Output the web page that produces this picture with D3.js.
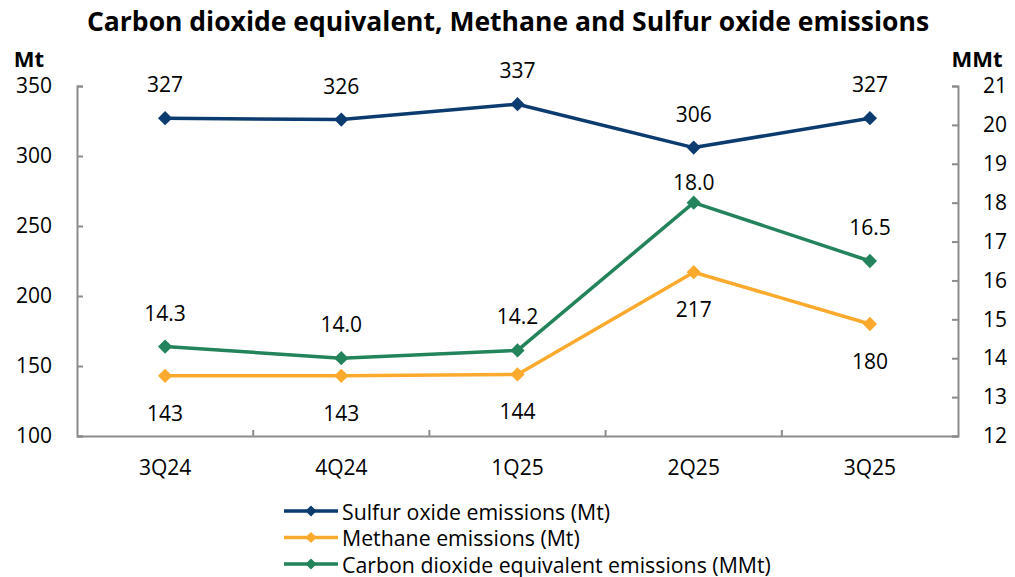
<!DOCTYPE html>
<html>
<head>
<meta charset="utf-8">
<script src="https://cdn.jsdelivr.net/npm/d3@7"></script>
<style>
  html, body { margin: 0; padding: 0; background: #fff; }
  svg { display: block; font-family: "Open Sans", "Noto Sans", sans-serif; }
</style>
</head>
<body>
<svg id="chart" width="1015" height="577"></svg>
<script>
// Quarterly emissions
const quarters = ["3Q24", "4Q24", "1Q25", "2Q25", "3Q25"];
const sulfurOxide = [327, 326, 337, 306, 327];      // Mt, left axis
const methane = [143, 143, 144, 217, 180];          // Mt, left axis
const co2e = [14.3, 14.0, 14.2, 18.0, 16.5];        // MMt, right axis
const leftTicks = [100, 150, 200, 250, 300, 350];
const rightTicks = [12, 13, 14, 15, 16, 17, 18, 19, 20, 21];

const svg = d3.select("#chart");
const plot = { left: 77, right: 958, top: 86, bottom: 436 };

const x = d3.scaleBand().domain(quarters).range([plot.left, plot.right]);
const yL = d3.scaleLinear().domain([100, 350]).range([plot.bottom, plot.top]);
const yR = d3.scaleLinear().domain([12, 21]).range([plot.bottom, plot.top]);

const axisColor = "#8c8c8c";

// Title
svg.append("text")
  .attr("x", 508).attr("y", 31)
  .attr("text-anchor", "middle")
  .attr("font-size", 26.5).attr("font-weight", 700)
  .attr("fill", "#000")
  .text("Carbon dioxide equivalent, Methane and Sulfur oxide emissions");

// Unit captions
svg.append("text").attr("x", 29).attr("y", 67).attr("text-anchor", "middle")
  .attr("font-size", 22).attr("font-weight", 700).text("Mt");
svg.append("text").attr("x", 977).attr("y", 67).attr("text-anchor", "middle")
  .attr("font-size", 22).attr("font-weight", 700).text("MMt");

// Left axis
const gL = svg.append("g").attr("transform", `translate(${plot.left},0)`)
  .call(d3.axisRight(yL).tickValues(leftTicks).tickSize(6).tickFormat(d3.format("d")));
gL.select(".domain").attr("stroke", axisColor).attr("stroke-width", 2);
gL.selectAll(".tick line").attr("stroke", axisColor).attr("stroke-width", 2);
gL.selectAll(".tick text")
  .attr("x", -25).attr("text-anchor", "end")
  .attr("font-size", 21).attr("fill", "#000")
  .attr("font-family", "Open Sans, Noto Sans, sans-serif");

// Right axis
const gR = svg.append("g").attr("transform", `translate(${plot.right},0)`)
  .call(d3.axisLeft(yR).tickValues(rightTicks).tickSize(6).tickFormat(d3.format("d")));
gR.select(".domain").attr("stroke", axisColor).attr("stroke-width", 2);
gR.selectAll(".tick line").attr("stroke", axisColor).attr("stroke-width", 2);
gR.selectAll(".tick text")
  .attr("x", 25).attr("text-anchor", "start")
  .attr("font-size", 21).attr("fill", "#000")
  .attr("font-family", "Open Sans, Noto Sans, sans-serif");

// Bottom axis: ticks at band boundaries, labels at band centres
const gB = svg.append("g").attr("transform", `translate(0,${plot.bottom})`)
  .call(d3.axisBottom(x).tickSize(0).tickPadding(24));
gB.select(".domain").attr("stroke", axisColor).attr("stroke-width", 2);
gB.selectAll(".tick text")
  .attr("font-size", 21).attr("fill", "#000")
  .attr("font-family", "Open Sans, Noto Sans, sans-serif");
gB.selectAll(".boundary")
  .data(quarters.slice(1))
  .join("line")
  .attr("class", "boundary")
  .attr("x1", d => x(d)).attr("x2", d => x(d))
  .attr("y1", 0).attr("y2", -6)
  .attr("stroke", axisColor).attr("stroke-width", 2);

const cx = d => x(d) + x.bandwidth() / 2;
const diamond = d3.symbol().type(d3.symbolDiamond2).size(130);

function drawSeries(values, yScale, color, labelFmt, labelOffset) {
  const pts = quarters.map((q, i) => ({ q, v: values[i], i }));
  const line = d3.line().x(d => cx(d.q)).y(d => yScale(d.v));
  const g = svg.append("g");
  g.append("path").datum(pts)
    .attr("d", line).attr("fill", "none")
    .attr("stroke", color).attr("stroke-width", 3.5)
    .attr("stroke-linejoin", "round");
  g.selectAll("path.marker").data(pts).join("path")
    .attr("class", "marker")
    .attr("d", diamond)
    .attr("transform", d => `translate(${cx(d.q)},${yScale(d.v)})`)
    .attr("fill", color);
  g.selectAll("text").data(pts).join("text")
    .attr("x", d => cx(d.q))
    .attr("y", d => yScale(d.v) + labelOffset(d))
    .attr("text-anchor", "middle")
    .attr("dominant-baseline", "central")
    .attr("font-size", 21).attr("fill", "#000")
    .text(d => labelFmt(d.v));
}

const navy = "#0c3b6f";
const orange = "#fbaa2e";
const green = "#23835b";

drawSeries(methane, yL, orange, d3.format("d"), () => 37);
drawSeries(co2e, yR, green, d3.format(".1f"), d => d.i === 3 ? -21 : -34);
drawSeries(sulfurOxide, yL, navy, d3.format("d"), () => -34);

// Legend
const legendItems = [
  { label: "Sulfur oxide emissions (Mt)", color: navy },
  { label: "Methane emissions (Mt)", color: orange },
  { label: "Carbon dioxide equivalent emissions (MMt)", color: green }
];
const lg = svg.append("g");
legendItems.forEach((d, i) => {
  const yy = 511 + i * 26.5;
  lg.append("line").attr("x1", 284).attr("x2", 338).attr("y1", yy).attr("y2", yy)
    .attr("stroke", d.color).attr("stroke-width", 3.5);
  lg.append("path").attr("d", d3.symbol().type(d3.symbolDiamond2).size(80))
    .attr("transform", `translate(311,${yy})`).attr("fill", d.color);
  lg.append("text").attr("x", 342).attr("y", yy)
    .attr("dominant-baseline", "central")
    .attr("font-size", 21.3).attr("fill", "#000")
    .text(d.label);
});
</script>
</body>
</html>
